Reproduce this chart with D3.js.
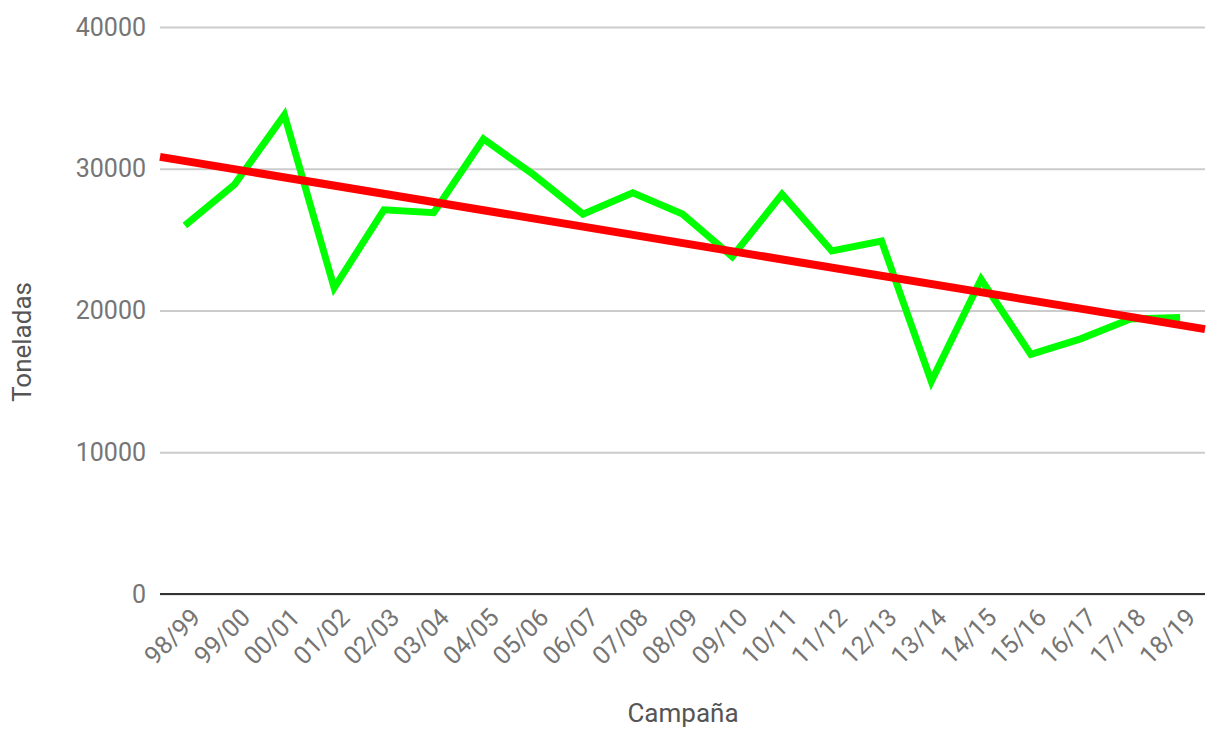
<!DOCTYPE html>
<html>
<head>
<meta charset="utf-8">
<script src="https://cdn.jsdelivr.net/npm/d3@7"></script>
<style>
  html, body { margin: 0; padding: 0; background: #fff; }
  svg { display: block; }
</style>
</head>
<body>
<svg id="chart" width="1209" height="729"></svg>
<script>
const categories = ["98/99","99/00","00/01","01/02","02/03","03/04","04/05","05/06","06/07","07/08","08/09","09/10","10/11","11/12","12/13","13/14","14/15","15/16","16/17","17/18","18/19"];
const toneladas = [26000,28900,33800,21600,27100,26900,32100,29600,26800,28300,26800,23800,28200,24200,24900,15000,22200,16900,18000,19400,19500];
const yTicks = [0,10000,20000,30000,40000];

const W = 1209, H = 729;
const margin = {left: 160, right: 4, top: 27, bottom: 135};
const svg = d3.select("#chart");
const font = "Roboto, 'Noto Sans', sans-serif";

const x = d3.scaleBand().domain(categories).range([margin.left, W - margin.right]).padding(0);
const y = d3.scaleLinear().domain([0, 40000]).range([H - margin.bottom, margin.top]);

// gridlines
const yAxis = d3.axisLeft(y).tickValues(yTicks).tickSize(-(W - margin.left - margin.right)).tickPadding(14).tickFormat(d3.format("d"));
const gy = svg.append("g").attr("transform", `translate(${margin.left},0)`).call(yAxis);
gy.select(".domain").remove();
gy.selectAll(".tick line").attr("stroke", "#cccccc").attr("stroke-width", 2);
gy.selectAll(".tick text").attr("fill", "#757575").style("font-family", font).style("font-size", "25px").attr("dy", "0.32em");

// baseline
svg.append("line")
  .attr("x1", margin.left).attr("x2", W - margin.right)
  .attr("y1", y(0)).attr("y2", y(0))
  .attr("stroke", "#333").attr("stroke-width", 2);

// x axis labels
const xAxis = d3.axisBottom(x).tickSize(0).tickPadding(0);
const gx = svg.append("g").attr("transform", `translate(0,${y(0)})`).call(xAxis);
gx.select(".domain").remove();
gx.selectAll(".tick text")
  .attr("fill", "#757575")
  .style("font-family", font).style("font-size", "25px")
  .attr("text-anchor", "end")
  .attr("dy", null).attr("y", 0)
  .attr("transform", "translate(17,25) rotate(-45)");

// data line
const cx = d => x(d) + x.bandwidth() / 2;
const line = d3.line().x((d, i) => cx(categories[i])).y(d => y(d));
svg.append("path").datum(toneladas)
  .attr("d", line)
  .attr("fill", "none").attr("stroke", "#00ff00").attr("stroke-width", 7)
  .attr("stroke-linejoin", "miter");

// linear trendline (least squares)
const n = toneladas.length;
const xs = d3.range(n);
const mx = d3.mean(xs), my = d3.mean(toneladas);
const slope = d3.sum(xs, i => (i - mx) * (toneladas[i] - my)) / d3.sum(xs, i => (i - mx) ** 2);
const icpt = my - slope * mx;
const idx = d3.scaleLinear().domain([0, n - 1]).range([cx(categories[0]), cx(categories[n - 1])]);
const xl = margin.left, xr = W - margin.right;
const il = idx.invert(xl), ir = idx.invert(xr);
svg.append("line")
  .attr("x1", xl).attr("y1", y(icpt + slope * il))
  .attr("x2", xr).attr("y2", y(icpt + slope * ir))
  .attr("stroke", "#ff0000").attr("stroke-width", 8);

// axis titles
svg.append("text")
  .attr("x", 683).attr("y", 722)
  .attr("text-anchor", "middle")
  .attr("fill", "#555").style("font-family", font).style("font-size", "26px")
  .text("Campaña");
svg.append("text")
  .attr("transform", `translate(31,342) rotate(-90)`)
  .attr("text-anchor", "middle")
  .attr("fill", "#555").style("font-family", font).style("font-size", "26px")
  .text("Toneladas");
</script>
</body>
</html>
